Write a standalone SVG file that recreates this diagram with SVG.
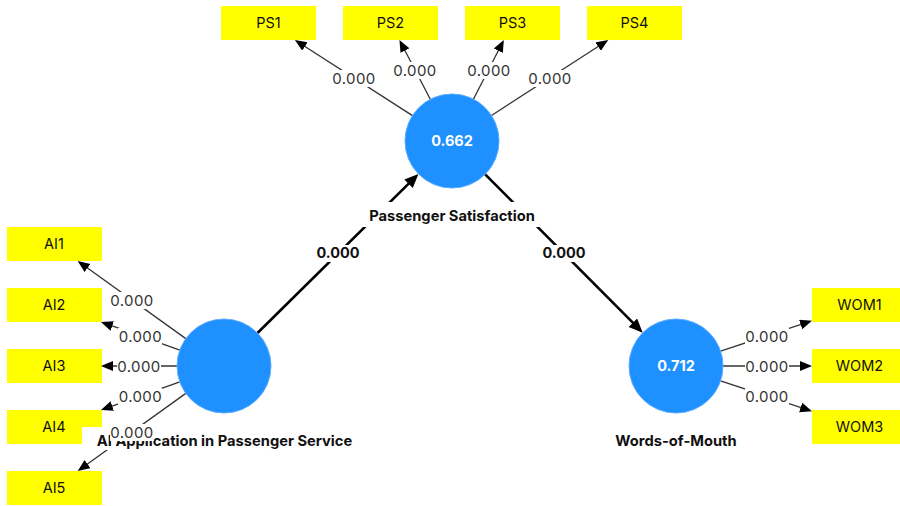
<svg xmlns="http://www.w3.org/2000/svg" width="900" height="506" viewBox="0 0 900 506">
<style>
.box{fill:#ffff00}
.bt{font-family:Inter,"Liberation Sans",sans-serif;font-size:14.5px;fill:#111;text-anchor:middle}
.lv{fill:#1e90ff;stroke:#5aacff;stroke-width:1}
.lvt{font-family:Inter,"Liberation Sans",sans-serif;font-size:14.5px;font-weight:bold;fill:#fff;text-anchor:middle}
.nl{font-family:Inter,"Liberation Sans",sans-serif;font-size:14.7px;font-weight:bold;fill:#111;text-anchor:middle}
.bg{fill:#fff}
.ld{stroke:#333;stroke-width:1.3;fill:none;marker-end:url(#ah)}
.pt{stroke:#000;stroke-width:2.6;fill:none;marker-end:url(#ahb)}
.lt{font-family:Inter,"Liberation Sans",sans-serif;font-size:15px;letter-spacing:0.4px;fill:#333;text-anchor:middle}
.pl{font-family:Inter,"Liberation Sans",sans-serif;font-size:14.5px;font-weight:bold;fill:#111;text-anchor:middle}
</style>
<defs>
<marker id="ah" markerUnits="userSpaceOnUse" markerWidth="14" markerHeight="12" refX="6" refY="5" orient="auto"><path d="M0,0 L12,5 L0,10 z" fill="#000"/></marker>
<marker id="ahb" markerUnits="userSpaceOnUse" markerWidth="16" markerHeight="14" refX="7" refY="6" orient="auto"><path d="M0,0 L14,6 L0,12 z" fill="#000"/></marker>
</defs>
<g id="indicators">
<g id="AI1"><rect class="box" x="7" y="227" width="95" height="34"/><text class="bt" x="54" y="249">AI1</text></g>
<g id="AI2"><rect class="box" x="7" y="288" width="95" height="34"/><text class="bt" x="54" y="310">AI2</text></g>
<g id="AI3"><rect class="box" x="7" y="349" width="95" height="34"/><text class="bt" x="54" y="371">AI3</text></g>
<g id="AI4"><rect class="box" x="7" y="410" width="95" height="34"/><text class="bt" x="54" y="432">AI4</text></g>
<g id="AI5"><rect class="box" x="7" y="471" width="95" height="34"/><text class="bt" x="54" y="493">AI5</text></g>
<g id="PS1"><rect class="box" x="221" y="6" width="95" height="34"/><text class="bt" x="268.5" y="28">PS1</text></g>
<g id="PS2"><rect class="box" x="343" y="6" width="95" height="34"/><text class="bt" x="390.5" y="28">PS2</text></g>
<g id="PS3"><rect class="box" x="465" y="6" width="95" height="34"/><text class="bt" x="512.5" y="28">PS3</text></g>
<g id="PS4"><rect class="box" x="587" y="6" width="95" height="34"/><text class="bt" x="634.5" y="28">PS4</text></g>
<g id="WOM1"><rect class="box" x="812" y="288" width="95" height="34"/><text class="bt" x="859.5" y="310">WOM1</text></g>
<g id="WOM2"><rect class="box" x="812" y="349" width="95" height="34"/><text class="bt" x="859.5" y="371">WOM2</text></g>
<g id="WOM3"><rect class="box" x="812" y="410" width="95" height="34"/><text class="bt" x="859.5" y="432">WOM3</text></g>
</g>
<g id="connectors">
<line class="ld" x1="185.8" y1="338.6" x2="82.6" y2="264.5"/>
<line class="ld" x1="179.8" y1="350.1" x2="106.6" y2="323.9"/>
<line class="ld" x1="177" y1="366" x2="107" y2="366"/>
<line class="ld" x1="179.8" y1="381.9" x2="106.6" y2="408.1"/>
<line class="ld" x1="185.8" y1="393.4" x2="82.6" y2="467.5"/>
<line class="ld" x1="412.5" y1="115.6" x2="299.9" y2="43.2"/>
<line class="ld" x1="430.3" y1="99.3" x2="402.2" y2="45.3"/>
<line class="ld" x1="473.4" y1="99.2" x2="501.1" y2="45.3"/>
<line class="ld" x1="491.5" y1="115.5" x2="603.2" y2="43.3"/>
<line class="ld" x1="720.6" y1="351.2" x2="806.3" y2="322.7"/>
<line class="ld" x1="723" y1="366" x2="806" y2="366"/>
<line class="ld" x1="720.6" y1="380.8" x2="806.3" y2="409.3"/>
<line class="pt" x1="257.5" y1="333" x2="413.5" y2="178.9"/>
<line class="pt" x1="485.2" y1="174.3" x2="637.8" y2="327.7"/>
</g>
<g id="AIPS"><circle class="lv" cx="224" cy="366" r="47"/><rect class="bg" x="82" y="427" width="285" height="23"/><text class="nl" x="224.5" y="446">AI Application in Passenger Service</text></g>
<g id="PS"><circle class="lv" cx="452" cy="141" r="47"/><text class="lvt" x="452" y="146">0.662</text><rect class="bg" x="355" y="202" width="194" height="25"/><text class="nl" x="452" y="221">Passenger Satisfaction</text></g>
<g id="WOM"><circle class="lv" cx="676" cy="366" r="47"/><text class="lvt" x="676" y="371">0.712</text><rect class="bg" x="600" y="427" width="152" height="23"/><text class="nl" x="676" y="446">Words-of-Mouth</text></g>
<g id="labels">
<rect class="bg" x="110" y="292" width="44" height="17"/><text class="lt" x="132" y="305.5">0.000</text>
<rect class="bg" x="118" y="328" width="44" height="17"/><text class="lt" x="140.4" y="341.5">0.000</text>
<rect class="bg" x="117" y="358" width="44" height="17"/><text class="lt" x="139" y="371.5">0.000</text>
<rect class="bg" x="118" y="388" width="44" height="17"/><text class="lt" x="140.4" y="401.5">0.000</text>
<rect class="bg" x="110" y="424" width="44" height="17"/><text class="lt" x="132" y="437.5">0.000</text>
<rect class="bg" x="332" y="70" width="44" height="17"/><text class="lt" x="354" y="83.5">0.000</text>
<rect class="bg" x="393" y="62" width="44" height="17"/><text class="lt" x="415" y="75.5">0.000</text>
<rect class="bg" x="467" y="62" width="44" height="17"/><text class="lt" x="489" y="75.5">0.000</text>
<rect class="bg" x="528" y="70" width="44" height="17"/><text class="lt" x="550" y="83.5">0.000</text>
<rect class="bg" x="745" y="328" width="44" height="17"/><text class="lt" x="767" y="341.5">0.000</text>
<rect class="bg" x="745" y="358" width="44" height="17"/><text class="lt" x="767" y="371.5">0.000</text>
<rect class="bg" x="745" y="388" width="44" height="17"/><text class="lt" x="767" y="401.5">0.000</text>
<rect class="bg" x="315" y="245" width="46" height="17"/><text class="pl" x="338" y="258">0.000</text>
<rect class="bg" x="541" y="245" width="46" height="17"/><text class="pl" x="564" y="258">0.000</text>
</g>
</svg>
